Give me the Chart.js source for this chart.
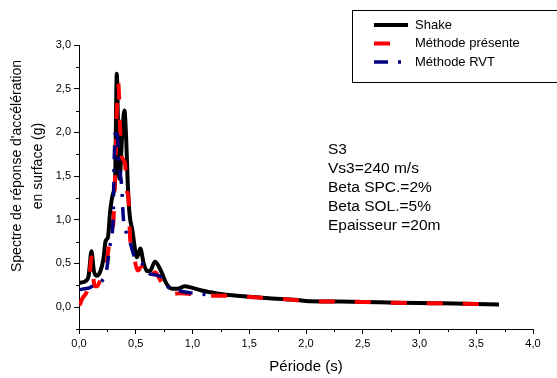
<!DOCTYPE html>
<html>
<head>
<meta charset="utf-8">
<script src="https://cdn.jsdelivr.net/npm/chart.js@4.4.1/dist/chart.umd.min.js"></script>
<style>
  html, body { margin: 0; padding: 0; background: #fff; }
</style>
</head>
<body>
<canvas id="spectre" width="557" height="378"></canvas>
<script>
// Shake
const shakeT = [0.005, 0.06, 0.085, 0.11, 0.13, 0.155, 0.185, 0.215, 0.235, 0.255, 0.275, 0.30, 0.318, 0.333, 0.345, 0.357, 0.38, 0.40, 0.415, 0.43, 0.445, 0.47, 0.51, 0.54, 0.57, 0.60, 0.63, 0.67, 0.72, 0.77, 0.82, 0.87, 0.93, 1.0, 1.08, 1.16, 1.25, 1.35, 1.5, 1.7, 1.9, 2.0, 2.2, 2.5, 2.8, 3.1, 3.4, 3.7];
const shakeSa = [0.28, 0.30, 0.36, 0.64, 0.42, 0.36, 0.40, 0.55, 0.76, 0.80, 1.10, 1.30, 1.45, 2.67, 2.0, 1.47, 1.95, 2.25, 1.95, 1.40, 1.07, 0.88, 0.57, 0.67, 0.50, 0.41, 0.42, 0.52, 0.42, 0.27, 0.21, 0.21, 0.24, 0.22, 0.19, 0.17, 0.15, 0.135, 0.12, 0.10, 0.085, 0.07, 0.065, 0.06, 0.05, 0.045, 0.04, 0.03];

// Méthode présente
const presT = [0.005, 0.03, 0.07, 0.09, 0.11, 0.125, 0.14, 0.16, 0.185, 0.21, 0.24, 0.27, 0.30, 0.318, 0.335, 0.347, 0.36, 0.377, 0.405, 0.42, 0.435, 0.45, 0.49, 0.52, 0.55, 0.60, 0.67, 0.72, 0.77, 0.82, 0.9, 1.0, 1.1, 1.2, 1.35, 1.5, 1.7, 1.9, 2.0, 2.2, 2.5, 2.8, 3.1, 3.4, 3.57];
const presSa = [0.02, 0.10, 0.18, 0.30, 0.57, 0.35, 0.24, 0.24, 0.30, 0.35, 0.46, 0.76, 0.92, 1.50, 2.30, 2.56, 2.10, 1.72, 1.65, 1.34, 1.26, 0.80, 0.535, 0.42, 0.46, 0.31, 0.40, 0.30, 0.19, 0.15, 0.16, 0.15, 0.14, 0.13, 0.13, 0.115, 0.10, 0.083, 0.07, 0.065, 0.06, 0.05, 0.045, 0.04, 0.035];

// Méthode RVT
const rvtT = [0.005, 0.05, 0.09, 0.12, 0.15, 0.185, 0.215, 0.245, 0.27, 0.30, 0.31, 0.325, 0.34, 0.35, 0.36, 0.377, 0.39, 0.42, 0.45, 0.49, 0.53, 0.57, 0.61, 0.67, 0.73, 0.80, 0.87, 0.95, 1.07, 1.20];
const rvtSa = [0.20, 0.21, 0.22, 0.24, 0.25, 0.27, 0.33, 0.44, 0.69, 0.99, 1.68, 2.05, 1.95, 1.65, 1.55, 1.37, 1.03, 0.84, 0.74, 0.57, 0.52, 0.48, 0.39, 0.37, 0.34, 0.21, 0.19, 0.17, 0.15, 0.134];

const xTicks = [0, 0.5, 1.0, 1.5, 2.0, 2.5, 3.0, 3.5, 4.0];
const yTicks = [0, 0.5, 1.0, 1.5, 2.0, 2.5, 3.0];
const seriesNames = ['Shake', 'Méthode présente', 'Méthode RVT'];
const infoLines = ['S3', 'Vs3=240 m/s', 'Beta SPC.=2%', 'Beta SOL.=5%', 'Epaisseur =20m'];
const xTitle = 'Période (s)';
const yTitle = ["Spectre de réponse d'accélération", 'en surface (g)'];

const FONT = "'Liberation Sans', Arial, sans-serif";
Chart.defaults.font.family = FONT;
Chart.defaults.color = '#000';

function pairs(ts, vs) {
    return ts.map((t, i) => ({ x: t, y: vs[i] }));
}
function fmt(v) {
    return v.toFixed(1).replace('.', ',');
}

// minor ticks, axis titles, text block and legend box
const decorations = {
    id: 'decorations',
    afterDraw(chart) {
        const ctx = chart.ctx;
        const xs = chart.scales.x;
        const ys = chart.scales.y;
        const area = chart.chartArea;
        ctx.save();
        ctx.strokeStyle = '#000';
        ctx.lineWidth = 1;
        ctx.beginPath();
        for (let v = 0.25; v < 4; v += 0.5) {
            const px = Math.round(xs.getPixelForValue(v)) + 0.5;
            ctx.moveTo(px, area.bottom);
            ctx.lineTo(px, area.bottom + 3);
        }
        for (let v = -0.25; v < 3; v += 0.5) {
            const py = Math.round(ys.getPixelForValue(v)) + 0.5;
            ctx.moveTo(area.left, py);
            ctx.lineTo(area.left - 3, py);
        }
        ctx.stroke();

        ctx.fillStyle = '#000';
        ctx.textAlign = 'center';
        ctx.textBaseline = 'middle';
        ctx.font = '15px ' + FONT;
        ctx.fillText(xTitle, 306, 367);

        ctx.save();
        ctx.translate(17, 166);
        ctx.rotate(-Math.PI / 2);
        ctx.font = '14px ' + FONT;
        ctx.fillText(yTitle[0], 0, 0);
        ctx.fillText(yTitle[1], 0, 21);
        ctx.restore();

        ctx.textAlign = 'left';
        ctx.font = '15.5px ' + FONT;
        infoLines.forEach((s, i) => ctx.fillText(s, 328, 150 + i * 19));

        // legend
        ctx.lineWidth = 1;
        ctx.strokeStyle = '#000';
        ctx.strokeRect(352.5, 10.5, 220, 72);
        ctx.font = '13px ' + FONT;
        chart.data.datasets.forEach((ds, i) => {
            const ly = 25 + i * 18.5;
            ctx.save();
            ctx.strokeStyle = ds.borderColor;
            ctx.lineWidth = ds.borderWidth;
            ctx.setLineDash(ds.borderDash || []);
            ctx.beginPath();
            ctx.moveTo(374, ly);
            ctx.lineTo(408, ly);
            ctx.stroke();
            ctx.restore();
            ctx.fillText(ds.label, 415, ly);
        });
        ctx.restore();
    }
};

new Chart(document.getElementById('spectre'), {
    type: 'line',
    data: {
        datasets: [{
            label: seriesNames[0],
            data: pairs(shakeT, shakeSa),
            borderColor: '#000000',
            borderWidth: 4,
            borderJoinStyle: 'round',
            order: 3
        }, {
            label: seriesNames[1],
            data: pairs(presT, presSa),
            borderColor: '#ff0000',
            borderWidth: 4,
            borderDash: [16, 20],
            order: 2
        }, {
            label: seriesNames[2],
            data: pairs(rvtT, rvtSa),
            borderColor: '#000080',
            borderWidth: 3.5,
            borderDash: [14, 10, 3, 10],
            order: 1
        }]
    },
    options: {
        responsive: false,
        animation: false,
        devicePixelRatio: 1,
        layout: { padding: { left: 0, right: 24, top: 45, bottom: 0 } },
        elements: {
            point: { radius: 0 },
            line: { fill: false, cubicInterpolationMode: 'monotone' }
        },
        plugins: {
            legend: { display: false },
            tooltip: { enabled: false }
        },
        scales: {
            x: {
                type: 'linear',
                min: 0,
                max: 4,
                afterFit: s => { s.height = 49; },
                afterBuildTicks: s => { s.ticks = xTicks.map(v => ({ value: v })); },
                grid: { drawOnChartArea: false, drawTicks: true, tickLength: 5, color: '#000' },
                border: { display: true, color: '#000', width: 1 },
                ticks: { callback: v => fmt(v), font: { size: 11 }, padding: 3, maxRotation: 0, color: '#000' }
            },
            y: {
                type: 'linear',
                min: -0.25,
                max: 3.0,
                afterFit: s => { s.width = 79; },
                afterBuildTicks: s => { s.ticks = yTicks.map(v => ({ value: v })); },
                grid: { drawOnChartArea: false, drawTicks: true, tickLength: 5, color: '#000' },
                border: { display: true, color: '#000', width: 1 },
                ticks: { callback: v => fmt(v), font: { size: 11 }, padding: 3, color: '#000' }
            }
        }
    },
    plugins: [decorations]
});
</script>
</body>
</html>
